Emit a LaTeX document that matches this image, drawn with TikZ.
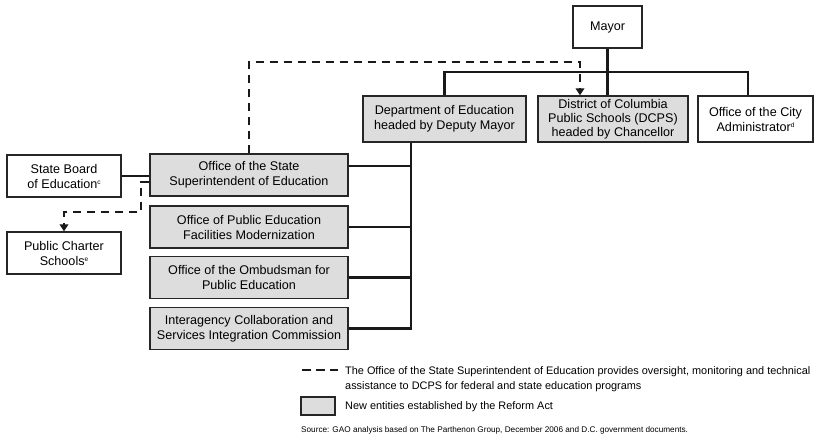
\documentclass[tikz,border=0pt]{standalone}
\usepackage{fontspec}
\setmainfont{Liberation Sans}
\usetikzlibrary{arrows.meta}
\definecolor{newgray}{RGB}{221,221,222}
\newcommand{\fnmark}[1]{\raisebox{0.5ex}{\fontsize{6.5}{6.5}\selectfont #1}}
\tikzset{
	unit/.style={draw=black!85, line width=1.3pt, inner sep=0pt, align=center,
		font=\fontsize{12.6}{15}\selectfont},
	newunit/.style={unit, fill=newgray},
	link/.style={line width=2.6pt, black!90},
	oversight/.style={line width=2.6pt, black!90, dash pattern=on 8.5pt off 5.5pt,
		-{Triangle[length=7pt,width=8.5pt]}},
	legendtext/.style={anchor=west, inner sep=0pt, align=left,
		font=\fontsize{10.9}{15}\selectfont},
}

\begin{document}
\begin{tikzpicture}[x=1pt, y=-1pt]
\useasboundingbox (0,0) rectangle (819,442);

\node[unit, minimum width=69, minimum height=42] (mayor) at (607.5, 27) {Mayor};

\node[newunit, minimum width=163, minimum height=46] (doe) at (444.5, 119)
	{Department of Education\\headed by Deputy Mayor};
\node[newunit, minimum width=150, minimum height=46,
	font=\fontsize{12.6}{14}\selectfont] (dcps) at (613, 119)
	{District of Columbia\\Public Schools (DCPS)\\headed by Chancellor};
\node[unit, minimum width=115, minimum height=46] (cityadm) at (755.5, 119)
	{Office of the City\\Administrator\fnmark{d}};

\node[unit, minimum width=114, minimum height=42] (sboard) at (64, 176)
	{State Board\\of Education\fnmark{c}};
\node[unit, minimum width=114, minimum height=42] (charter) at (64, 253)
	{Public Charter\\Schools\fnmark{e}};

\node[newunit, minimum width=198, minimum height=42] (osse) at (249, 175)
	{Office of the State\\Superintendent of Education};
\node[newunit, minimum width=198, minimum height=42] (facil) at (249, 227)
	{Office of Public Education\\Facilities Modernization};
\node[newunit, minimum width=198, minimum height=42] (ombud) at (249, 277.5)
	{Office of the Ombudsman for\\Public Education};
\node[newunit, minimum width=198, minimum height=42] (icsic) at (249, 328.5)
	{Interagency Collaboration and\\Services Integration Commission};

\coordinate (bar) at (0, 72);
\coordinate (bus) at (411, 0);
\coordinate (ovtop) at (0, 62);
\coordinate (ovleft) at (141, 212);

\draw[link] (mayor.south) -- (mayor.south |- dcps.north);
\draw[link] (doe.north) |- (bar -| mayor.south) -| ([xshift=-7.5pt]cityadm.north);

\draw[link] (doe.south -| bus) -- (bus |- icsic.east) -- (icsic.east);
\draw[link] ([yshift=9pt]osse.east) -- ([yshift=9pt]osse.east -| bus);
\foreach \n in {facil, ombud}
	\draw[link] (\n.east) -- (\n.east -| bus);
\draw[link] (sboard.east) -- (sboard.east -| osse.west);

\draw[oversight] (osse.north) -- (osse.north |- ovtop) -| ([xshift=-33pt]dcps.north);
\draw[oversight] ([yshift=-7pt]osse.west) -| (ovleft) -| (charter.north);

% legend
\coordinate (lgA) at (302, 370);
\coordinate (lgB) at (338, 370);
\draw[oversight, -] (lgA) -- (lgB);
\node[legendtext] (lgdash) at (345, 379.5)
	{The Office of the State Superintendent of Education provides oversight, monitoring and technical\\
	 assistance to DCPS for federal and state education programs};
\node[newunit, minimum width=34, minimum height=18] (lgbox) at (318, 406) {};
\node[legendtext] (lgnew) at (345, 407) {New entities established by the Reform Act};
\node[anchor=west, inner sep=0pt, font=\fontsize{8.2}{10}\selectfont] (source) at (301, 430)
	{Source: GAO analysis based on The Parthenon Group, December 2006 and D.C. government documents.};
\end{tikzpicture}
\end{document}
